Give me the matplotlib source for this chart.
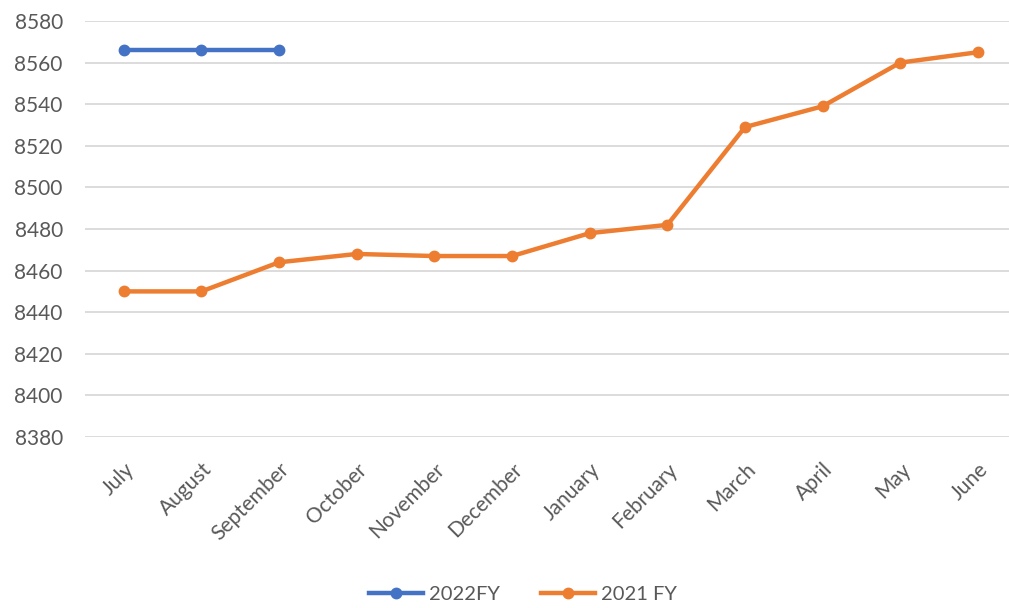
import matplotlib
matplotlib.use("Agg")
import matplotlib.pyplot as plt

months = ["July", "August", "September", "October", "November", "December",
          "January", "February", "March", "April", "May", "June"]
fy2022 = [8566, 8566, 8566]
fy2021 = [8450, 8450, 8464, 8468, 8467, 8467, 8478, 8482, 8529, 8539, 8560, 8565]
yticks = list(range(8380, 8581, 20))

plt.rcParams['font.family'] = ['Lato', 'DejaVu Sans']

fig = plt.figure(figsize=(10.09, 6.08), dpi=100)
ax = fig.add_axes([85/1009, 1 - 437/608, (1009-85)/1009, (437-21)/608])

x22 = list(range(len(fy2022)))
x21 = list(range(len(fy2021)))
ax.plot(x22, fy2022, color="#4472C4", lw=3.2, marker="o", ms=7.5, label="2022FY", zorder=3)
ax.plot(x21, fy2021, color="#ED7D31", lw=3.2, marker="o", ms=7.5, label="2021 FY", zorder=3)

ax.set_ylim(8380, 8580)
ax.set_xlim(-0.5, 11.4)
ax.set_yticks(yticks)
ax.set_xticks(x21)
ax.set_xticklabels(months, rotation=45, ha="right", rotation_mode="anchor")
ax.grid(axis="y", color="#D9D9D9", lw=1.3)
ax.set_axisbelow(True)
for s in ax.spines.values():
    s.set_visible(False)
ax.tick_params(axis="both", length=0, labelsize=15, colors="#595959")
ax.tick_params(axis="y", pad=16)
ax.tick_params(axis="x", pad=16)

fig.legend(loc="center", bbox_to_anchor=(523/1009, 1 - 594/608), ncol=2, frameon=False,
           fontsize=14.5, labelcolor="#595959", handlelength=2.7, columnspacing=2.0,
           handletextpad=0.3)

fig.savefig("out.png", dpi=100)
